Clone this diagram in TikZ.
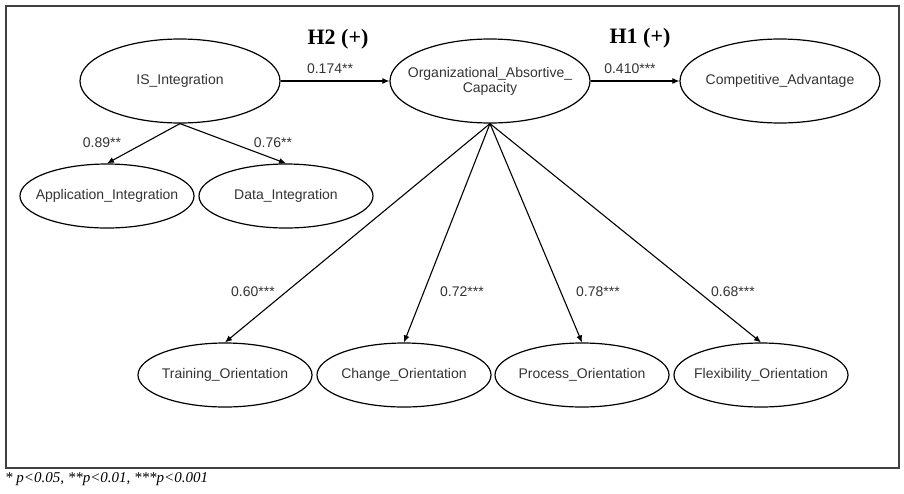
\documentclass[tikz,border=0pt]{standalone}
\usepackage{fontspec}
\setmainfont{Liberation Serif}
\setsansfont{Liberation Sans}
\usetikzlibrary{shapes.geometric,arrows.meta}
\begin{document}
\begin{tikzpicture}[x=1pt,y=-1pt,
  lat/.style={draw,ellipse,line width=1.2pt,inner sep=0pt},
  big/.style={lat,minimum width=200pt,minimum height=84pt},
  small/.style={lat,minimum width=174pt,minimum height=64pt},
  arr/.style={line width=1.1pt,-{Latex[length=7pt,width=6pt]}},
  lbl/.style={font=\sffamily\fontsize{14}{15}\selectfont,text=black!80},
  hyp/.style={font=\bfseries\fontsize{22}{24}\selectfont}]
\useasboundingbox (0,0) rectangle (904,493);
\node[draw=black!75,line width=1.5pt,minimum width=893pt,minimum height=462pt,inner sep=0pt,anchor=north west] (frame) at (5,5) {};
\node[big,label={[lbl]center:IS\_Integration}] (is) at (180,81) {};
\node[big,label={[lbl,align=center]center:Organizational\_Absortive\_\\Capacity}] (oac) at (490,81) {};
\node[big,label={[lbl]center:Competitive\_Advantage}] (ca) at (780,81) {};
\node[small,label={[lbl]center:Application\_Integration}] (ai) at (107,196) {};
\node[small,label={[lbl]center:Data\_Integration}] (di) at (286,196) {};
\node[small,label={[lbl]center:Training\_Orientation}] (to) at (225,375) {};
\node[small,label={[lbl]center:Change\_Orientation}] (co) at (404,375) {};
\node[small,label={[lbl]center:Process\_Orientation}] (po) at (582,375) {};
\node[small,label={[lbl]center:Flexibility\_Orientation}] (fo) at (761,375) {};
\draw[arr] (is.east) -- (oac.west);
\draw[arr] (oac.east) -- (ca.west);
\draw[arr] (is.south) -- (ai.north);
\draw[arr] (is.south) -- (di.north);
\draw[arr] (oac.south) -- (to.north);
\draw[arr] (oac.south) -- (co.north);
\draw[arr] (oac.south) -- (po.north);
\draw[arr] (oac.south) -- (fo.north);
\node[hyp] (h2) at (338,39) {H2 (+)};
\node[hyp] (h1) at (640,38) {H1 (+)};
\node[lbl] (l1) at (330,69) {0.174**};
\node[lbl] (l2) at (630,69) {0.410***};
\node[lbl] (l3) at (102,143) {0.89**};
\node[lbl] (l4) at (273,143) {0.76**};
\node[lbl] (l5) at (253,292) {0.60***};
\node[lbl] (l6) at (462,292) {0.72***};
\node[lbl] (l7) at (598,292) {0.78***};
\node[lbl] (l8) at (733,292) {0.68***};
\node[anchor=west,font=\itshape\fontsize{15}{17}\selectfont,inner sep=0pt] (fn) at (5,479) {* p<0.05, **p<0.01, ***p<0.001};
\end{tikzpicture}
\end{document}
